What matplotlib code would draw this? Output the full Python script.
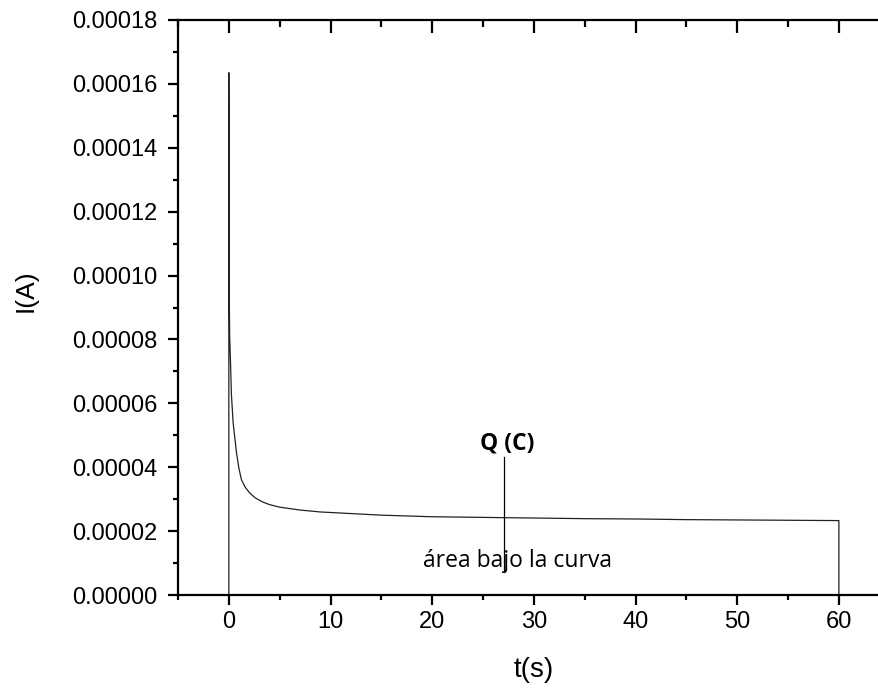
import matplotlib
matplotlib.use("Agg")
import matplotlib.pyplot as plt
from matplotlib.lines import TICKDOWN, TICKLEFT
from matplotlib.ticker import MultipleLocator, FormatStrFormatter

# current transient
t_s = [0, 0, 0.03, 0.08, 0.15, 0.25, 0.42, 0.76, 1.0, 1.25, 1.6, 2.06, 2.6,
       3.34, 4.0, 5.0, 7.0, 9.0, 12, 15, 20, 25, 30, 35, 40, 45, 50, 55, 60, 60]
i_a = [0, 1.635e-4, 9.9e-5, 8.1e-5, 7.45e-5, 6.3e-5, 5.4e-5, 4.44e-5, 3.95e-5,
       3.6e-5, 3.38e-5, 3.19e-5, 3.04e-5, 2.91e-5, 2.83e-5, 2.75e-5, 2.66e-5,
       2.6e-5, 2.55e-5, 2.5e-5, 2.45e-5, 2.43e-5, 2.41e-5, 2.39e-5, 2.38e-5,
       2.36e-5, 2.35e-5, 2.34e-5, 2.33e-5, 0]

# annotation
Q_X = 27.08
Q_LINE = [0.73e-5, 4.32e-5]
Q_LABEL = "Q (C)"
AREA_LABEL = "área bajo la curva"

XLIM = (-5, 65)
YLIM = (0, 0.00018)
SPINE_W = 1.6

fig = plt.figure(figsize=(8.79, 6.89), dpi=100)
# the right spine sits just off the canvas, like in the original
ax = fig.add_axes([0.2025, 0.1364, 0.8097, 0.8346])

ax.plot(t_s, i_a, color="#222222", lw=0.9)
ax.plot([Q_X, Q_X], Q_LINE, color="black", lw=0.9)
ax.text(27.39, 4.54e-5, Q_LABEL, family="Open Sans", fontsize=16.5,
        fontweight="bold", ha="center", va="baseline")
ax.text(28.4, 0.886e-5, AREA_LABEL, family="Open Sans", fontsize=16.5,
        ha="center", va="baseline")

ax.set_xlim(*XLIM)
ax.set_ylim(*YLIM)
ax.xaxis.set_major_locator(MultipleLocator(10))
ax.xaxis.set_minor_locator(MultipleLocator(5))
ax.yaxis.set_major_locator(MultipleLocator(0.00002))
ax.yaxis.set_minor_locator(MultipleLocator(0.00001))
ax.yaxis.set_major_formatter(FormatStrFormatter("%.5f"))

for s in ax.spines.values():
    s.set_linewidth(SPINE_W)
ax.spines["right"].set_visible(False)
ax.tick_params(which="both", direction="out", width=SPINE_W, labelsize=17,
               top=False, right=False)
ax.tick_params(which="major", length=7)
ax.tick_params(which="minor", length=3.8)
ax.tick_params(axis="x", pad=4.5)
ax.tick_params(axis="y", pad=8)

# inward ticks on top and right
def in_view(locs, lim):
    return [v for v in locs if lim[0] - 1e-12 <= v <= lim[1] + 1e-12]

for locs, size in ((ax.get_xticks(), 9), (ax.xaxis.get_minorticklocs(), 5)):
    locs = in_view(locs, XLIM)
    ax.plot(locs, [1] * len(locs), transform=ax.get_xaxis_transform(),
            ls="none", marker=TICKDOWN, ms=size, mew=SPINE_W, color="black",
            clip_on=False)
for locs, size in ((ax.get_yticks(), 9), (ax.yaxis.get_minorticklocs(), 5)):
    locs = in_view(locs, YLIM)
    ax.plot([1] * len(locs), locs, transform=ax.get_yaxis_transform(),
            ls="none", marker=TICKLEFT, ms=size, mew=SPINE_W, color="black",
            clip_on=False)

for lbl in ax.get_xticklabels() + ax.get_yticklabels():
    lbl.set_family("Liberation Sans")

ax.set_xlabel("t(s)", family="Liberation Sans", fontsize=20)
ax.set_ylabel("I(A)", family="Liberation Sans", fontsize=19)
ax.xaxis.set_label_coords(0.5, -0.108)
ax.yaxis.set_label_coords(-0.197, 0.53)

fig.savefig("out.png", dpi=100)
